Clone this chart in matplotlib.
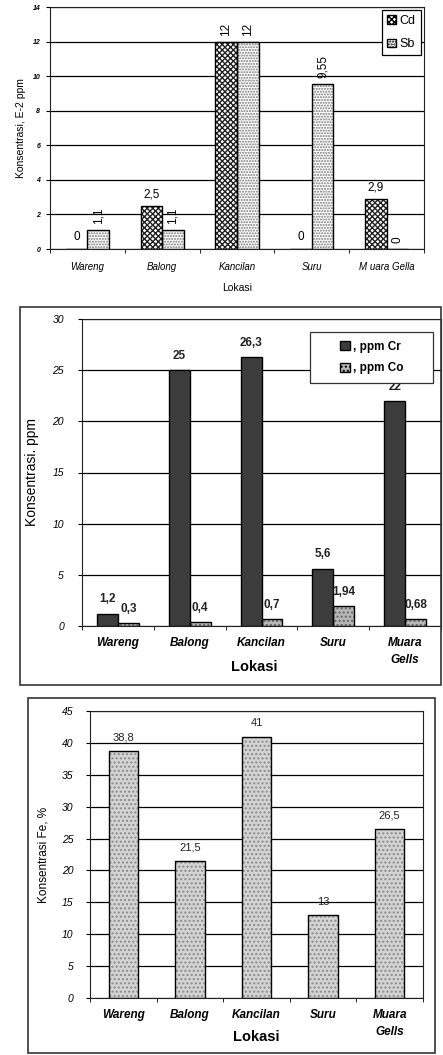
import numpy as np
import matplotlib
matplotlib.use("Agg")
import matplotlib.pyplot as plt
from matplotlib.patches import Rectangle

plt.rcParams['font.family'] = ['Liberation Sans', 'DejaVu Sans']

# data
lokasi1 = ["Wareng", "Balong", "Kancilan", "Suru", "M uara Gella"]
cd = [0, 2.5, 12, 0, 2.9]
sb = [1.1, 1.1, 12, 9.55, 0]
cd_lbl = ["0", "2,5", "12", "0", "2,9"]
sb_lbl = ["1,1", "1,1", "12", "9,55", "0"]
cd_rot = [0, 0, 90, 0, 0]

lokasi2 = ["Wareng", "Balong", "Kancilan", "Suru", "Muara\nGells"]
cr = [1.2, 25, 26.3, 5.6, 22]
co = [0.3, 0.4, 0.7, 1.94, 0.68]
cr_lbl = ["1,2", "25", "26,3", "5,6", "22"]
co_lbl = ["0,3", "0,4", "0,7", "1,94", "0,68"]

fe = [38.8, 21.5, 41, 13, 26.5]
fe_lbl = ["38,8", "21,5", "41", "13", "26,5"]

W, H = 443, 1055
fig = plt.figure(figsize=(W / 100, H / 100), dpi=100)


def ax_px(x0, x1, y0, y1):
    return fig.add_axes([x0 / W, 1 - y1 / H, (x1 - x0) / W, (y1 - y0) / H])


def frame_px(x0, x1, y0, y1):
    fig.patches.append(Rectangle((x0 / W, 1 - y1 / H), (x1 - x0) / W, (y1 - y0) / H,
                                 transform=fig.transFigure, fill=False,
                                 edgecolor="#333333", lw=1.2))


def hbar(ax, x, h, w, fc, hatch, hc):
    ax.bar(x, h, w, color=fc, edgecolor=hc, hatch=hatch, lw=0, zorder=2)
    ax.bar(x, h, w, fill=False, edgecolor="black", lw=1.0, zorder=3)


def style(ax, n, ymax, step, ysize, yweight, ypad):
    ax.set_xlim(0, n)
    ax.set_ylim(0, ymax)
    ax.set_yticks(np.arange(0, ymax + 0.01, step))
    ax.yaxis.grid(True, color="black", lw=0.9, zorder=0)
    ax.set_axisbelow(True)
    ax.set_xticks(np.arange(n) + 0.5)
    ax.set_xticks(np.arange(n + 1), minor=True)
    ax.tick_params(axis="x", which="major", length=0)
    ax.tick_params(axis="x", which="minor", length=3, direction="out")
    ax.tick_params(axis="y", length=3, labelsize=ysize, pad=ypad)
    for t in ax.get_yticklabels():
        t.set_fontstyle("italic")
        t.set_fontweight(yweight)
    for s in ax.spines.values():
        s.set_color("#222222")


n = len(lokasi1)
x = np.arange(n) + 0.5
bw = 0.29

# panel 1
ax1 = ax_px(50, 424, 7, 249)
style(ax1, n, 14, 2, 5, "bold", 4)
hbar(ax1, x - bw / 2, cd, bw, "white", "xxxxxx", "#222222")
hbar(ax1, x + bw / 2, sb, bw, "white", "......", "#777777")
for i in range(n):
    ax1.annotate(cd_lbl[i], (x[i] - bw / 2, cd[i]), xytext=(0, 4), textcoords="offset points",
                 ha="center", va="bottom", fontsize=8.5, rotation=cd_rot[i])
    ax1.annotate(sb_lbl[i], (x[i] + bw / 2, sb[i]), xytext=(0, 4), textcoords="offset points",
                 ha="center", va="bottom", fontsize=8.5, rotation=90)
ax1.set_xticklabels(lokasi1, fontsize=7, fontstyle="italic")
ax1.tick_params(axis="x", pad=9)
ax1.set_ylabel("Konsentrasi, E-2 ppm", fontsize=7.5, labelpad=5)
ax1.set_xlabel("Lokasi", fontsize=7.5)
ax1.xaxis.set_label_coords(0.5, -0.14)
leg1 = ax1.legend(handles=[Rectangle((0, 0), 1, 1, fc="white", ec="black", hatch="xxxxxx"),
                           Rectangle((0, 0), 1, 1, fc="white", ec="black", hatch="......")],
                  labels=["Cd", "Sb"], loc="upper right", fontsize=9,
                  handlelength=0.7, handleheight=0.7, fancybox=False, edgecolor="black",
                  framealpha=1, borderaxespad=0.25, labelspacing=0.9, handletextpad=0.3,
                  borderpad=0.4)
leg1.get_frame().set_linewidth(0.9)

# panel 2
frame_px(20, 441, 307, 685)
ax2 = ax_px(82, 441, 319, 626)
style(ax2, n, 30, 5, 7.5, "normal", 10)
hbar(ax2, x - bw / 2, cr, bw, "#3c3c3c", None, "#3c3c3c")
hbar(ax2, x + bw / 2, co, bw, "#b8b8b8", "....", "#666666")
for i in range(n):
    ax2.annotate(cr_lbl[i], (x[i] - bw / 2, cr[i]), xytext=(0, 6), textcoords="offset points",
                 ha="center", va="bottom", fontsize=8.5, fontweight="bold", color="#222222")
    ax2.annotate(co_lbl[i], (x[i] + bw / 2, co[i]), xytext=(0, 6), textcoords="offset points",
                 ha="center", va="bottom", fontsize=8.5, fontweight="bold", color="#222222")
ax2.set_xticklabels(lokasi2, fontsize=8.5, fontstyle="italic", fontweight="bold", va="top",
                    linespacing=1.5)
ax2.tick_params(axis="x", pad=8)
ax2.set_ylabel("Konsentrasi. ppm", fontsize=10, labelpad=10)
ax2.set_xlabel("Lokasi", fontsize=10.5, fontweight="bold")
ax2.xaxis.set_label_coords(0.48, -0.11)
# legend box drawn as its own patch so it can be wider than the entries
ax2.add_patch(Rectangle((0.635, 0.79), 0.343, 0.168, transform=ax2.transAxes,
                        facecolor="white", edgecolor="#333333", lw=0.9, zorder=4))
leg2 = ax2.legend(handles=[Rectangle((0, 0), 1, 1, fc="#3c3c3c", ec="black"),
                           Rectangle((0, 0), 1, 1, fc="#b8b8b8", ec="black", hatch="....")],
                  labels=[", ppm Cr", ", ppm Co"], loc="center",
                  bbox_to_anchor=(0.806, 0.874), handlelength=0.9, handleheight=0.8,
                  frameon=False, labelspacing=0.8, handletextpad=0.2,
                  prop={"weight": "bold", "size": 8.5})
leg2.set_zorder(5)

# panel 3
frame_px(28, 435, 698, 1053)
ax3 = ax_px(90, 423, 711, 998)
style(ax3, n, 45, 5, 7.5, "normal", 9)
bw3 = 0.44
hbar(ax3, x, fe, bw3, "#d4d4d4", "....", "#8a8a8a")
for i in range(n):
    ax3.annotate(fe_lbl[i], (x[i], fe[i]), xytext=(0, 6), textcoords="offset points",
                 ha="center", va="bottom", fontsize=8, color="#222222")
ax3.set_xticklabels(lokasi2, fontsize=8.5, fontstyle="italic", fontweight="bold", va="top",
                    linespacing=1.5)
ax3.tick_params(axis="x", pad=8)
ax3.set_ylabel("Konsentrasi Fe, %", fontsize=8.5, labelpad=9)
ax3.set_xlabel("Lokasi", fontsize=10.5, fontweight="bold")
ax3.xaxis.set_label_coords(0.5, -0.11)

fig.savefig("out.png", dpi=100)
